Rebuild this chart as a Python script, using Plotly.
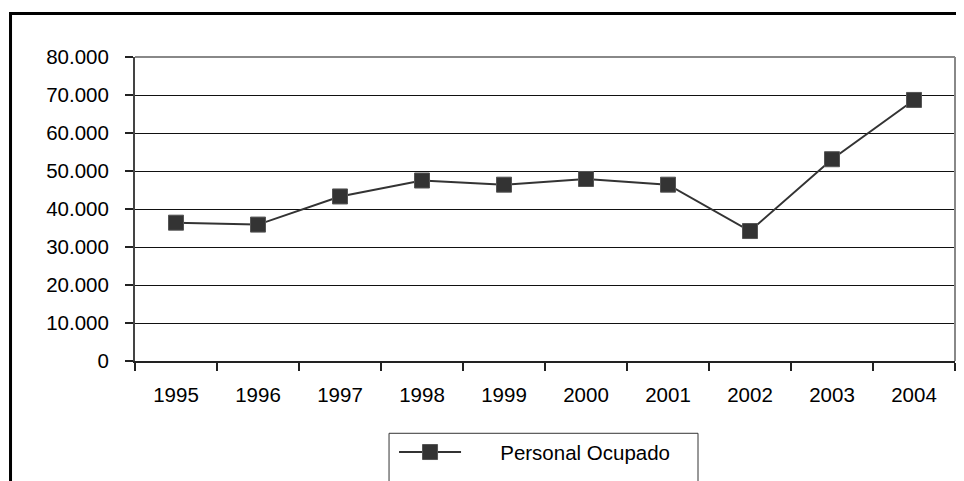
import plotly.graph_objects as go

years = ['1995', '1996', '1997', '1998', '1999', '2000', '2001', '2002', '2003', '2004']
personal_ocupado = [36400, 35900, 43300, 47500, 46400, 47900, 46400, 34200, 53100, 68700]

y_ticks = [0, 10000, 20000, 30000, 40000, 50000, 60000, 70000, 80000]

fig = go.Figure()

fig.add_trace(go.Scatter(
    x=years,
    y=personal_ocupado,
    mode='lines+markers',
    # leading no-break spaces push the label away from the symbol, like the original
    name='\u00a0' * 6 + 'Personal Ocupado',
    line=dict(color='#333333', width=2),
    marker=dict(symbol='square', size=15, color='#333333',
                line=dict(color='#555555', width=1))
))

# chart frame (black) and legend box, as in the Excel original
fig.add_shape(type='rect', xref='paper', yref='paper',
              x0=-0.1518, x1=1.03, y0=-0.5, y1=1.1433,
              line=dict(color='black', width=3), layer='below')
fig.add_shape(type='rect', xref='paper', yref='paper',
              x0=0.3098, x1=0.6866, y0=-0.5, y1=-0.2378,
              line=dict(color='#333333', width=1))
# plot area border top / right in gray
fig.add_shape(type='line', xref='paper', yref='paper',
              x0=0, x1=1, y0=1, y1=1, line=dict(color='#888888', width=2))
fig.add_shape(type='line', xref='paper', yref='paper',
              x0=1, x1=1, y0=0, y1=1, line=dict(color='#888888', width=2))

# page body has an 8px margin, so the figure is a bit smaller than the window
fig.update_layout(
    width=956, height=473,
    margin=dict(l=127, r=9, t=49, b=117),
    paper_bgcolor='white',
    plot_bgcolor='white',
    separators=',.',
    font=dict(family='Liberation Sans, Arial, sans-serif', size=20.5, color='black'),
    showlegend=True,
    legend=dict(
        x=0.3159, y=-0.30, xanchor='left', yanchor='middle',
        bgcolor='rgba(0,0,0,0)',
        itemwidth=62,
        font=dict(size=20.5)
    ),
    xaxis=dict(
        type='category',
        showgrid=False,
        showline=True, linecolor='#222222', linewidth=2,
        ticks='outside', tickson='boundaries', ticklen=8,
        tickcolor='#222222', tickwidth=1.5,
        ticklabelstandoff=14,
        range=[-0.5, 9.5],
        fixedrange=True
    ),
    yaxis=dict(
        range=[0, 80000],
        tickvals=y_ticks,
        tickformat=',d',
        showgrid=True, gridcolor='#111111', gridwidth=1,
        zeroline=False,
        showline=True, linecolor='#444444', linewidth=2,
        ticks='outside', ticklen=8, tickcolor='#222222', tickwidth=1.5,
        ticklabelstandoff=12,
        fixedrange=True
    )
)

fig.write_html("out.html")
